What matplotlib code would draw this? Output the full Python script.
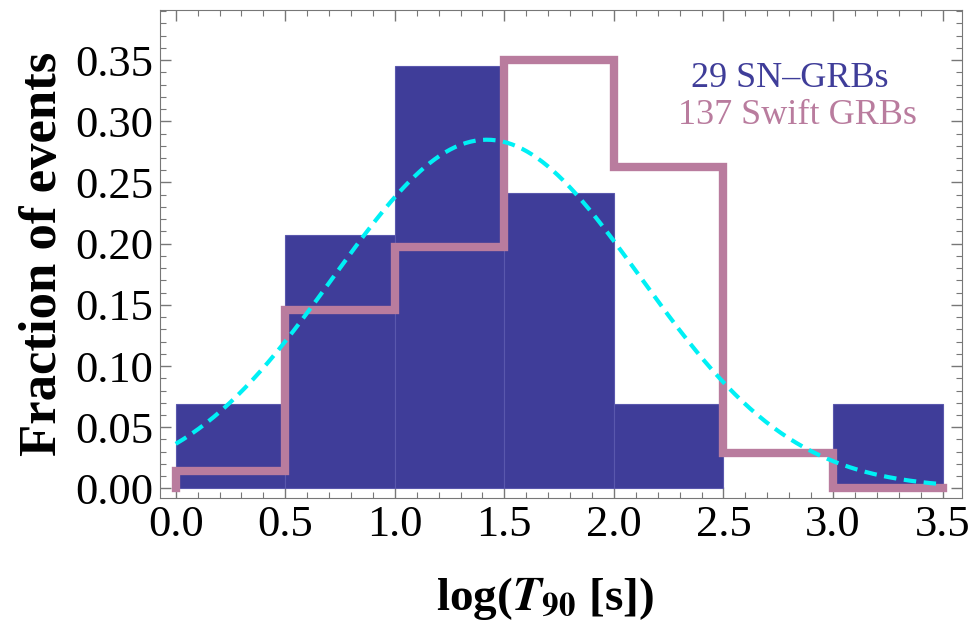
import numpy as np
import matplotlib.pyplot as plt
from matplotlib.ticker import MultipleLocator

# Histogram bins in log(T90 [s])
bin_edges = [0.0, 0.5, 1.0, 1.5, 2.0, 2.5, 3.0, 3.5]

# 29 SN-GRBs (counts per bin) and 137 Swift GRBs (counts per bin)
sn_counts = [2, 6, 10, 7, 2, 0, 2]
swift_counts = [2, 20, 27, 48, 36, 4, 0]

# Gaussian fit to the SN-GRB distribution
fit_mu = 1.42
fit_sigma = 0.70

sn_frac = np.array(sn_counts) / sum(sn_counts)
swift_frac = np.array(swift_counts) / sum(swift_counts)
edges = np.array(bin_edges)
width = edges[1] - edges[0]

plt.rcParams['font.family'] = ['Liberation Serif', 'DejaVu Serif']
plt.rcParams['mathtext.fontset'] = 'stix'

fig = plt.figure(figsize=(9.72, 6.22), dpi=100)
ax = fig.add_axes([0.165, 0.2, 0.825, 0.784])

blue = '#3f3d99'
pink = '#b97c9e'

# skip empty bins so no stray edge line is drawn on the baseline
nz = sn_frac > 0
ax.bar(edges[:-1][nz], sn_frac[nz], width=width, align='edge', color=blue,
       edgecolor='#5a58ad', linewidth=0.8, zorder=2)

# Swift histogram drawn as a closed-at-the-ends step outline
sx = [edges[0]]
sy = [0.0]
for i, f in enumerate(swift_frac):
    sx += [edges[i], edges[i + 1]]
    sy += [f, f]
sx.append(edges[-1])
sy.append(0.0)
ax.plot(sx, sy, color=pink, lw=6, solid_joinstyle='miter', zorder=3)

xs = np.linspace(0.0, 3.5, 300)
gauss = width * np.exp(-(xs - fit_mu) ** 2 / (2 * fit_sigma ** 2)) / (fit_sigma * np.sqrt(2 * np.pi))
ax.plot(xs, gauss, color='#00f0f5', lw=3, ls=(0, (3, 1.8)), zorder=4)

ax.text(0.785, 0.86, '29 SN\u2013GRBs', transform=ax.transAxes, color=blue,
        fontsize=26, ha='center', va='center')
ax.text(0.795, 0.783, '137 Swift GRBs', transform=ax.transAxes, color=pink,
        fontsize=26, ha='center', va='center')

ax.set_xlim(-0.07, 3.59)
ax.set_ylim(-0.0075, 0.391)
ax.xaxis.set_major_locator(MultipleLocator(0.5))
ax.xaxis.set_minor_locator(MultipleLocator(0.1))
ax.yaxis.set_major_locator(MultipleLocator(0.05))
ax.yaxis.set_minor_locator(MultipleLocator(0.01))
ax.xaxis.set_major_formatter(plt.FormatStrFormatter('%.1f'))
ax.yaxis.set_major_formatter(plt.FormatStrFormatter('%.2f'))

ax.tick_params(which='both', direction='in', top=True, right=True, color='#777777',
               labelsize=32, pad=5)
ax.tick_params(which='major', length=8, width=1)
ax.tick_params(which='minor', length=4, width=0.8)
for s in ax.spines.values():
    s.set_color('#777777')

ax.set_ylabel('Fraction of events', fontsize=38, fontweight='bold', labelpad=6)
ax.set_xlabel(r'log($\boldsymbol{T}_{\mathbf{90}}$ [s])', fontsize=34, fontweight='bold', labelpad=22)
ax.xaxis.label.set_x(0.48)

fig.savefig('out.png', dpi=100)
